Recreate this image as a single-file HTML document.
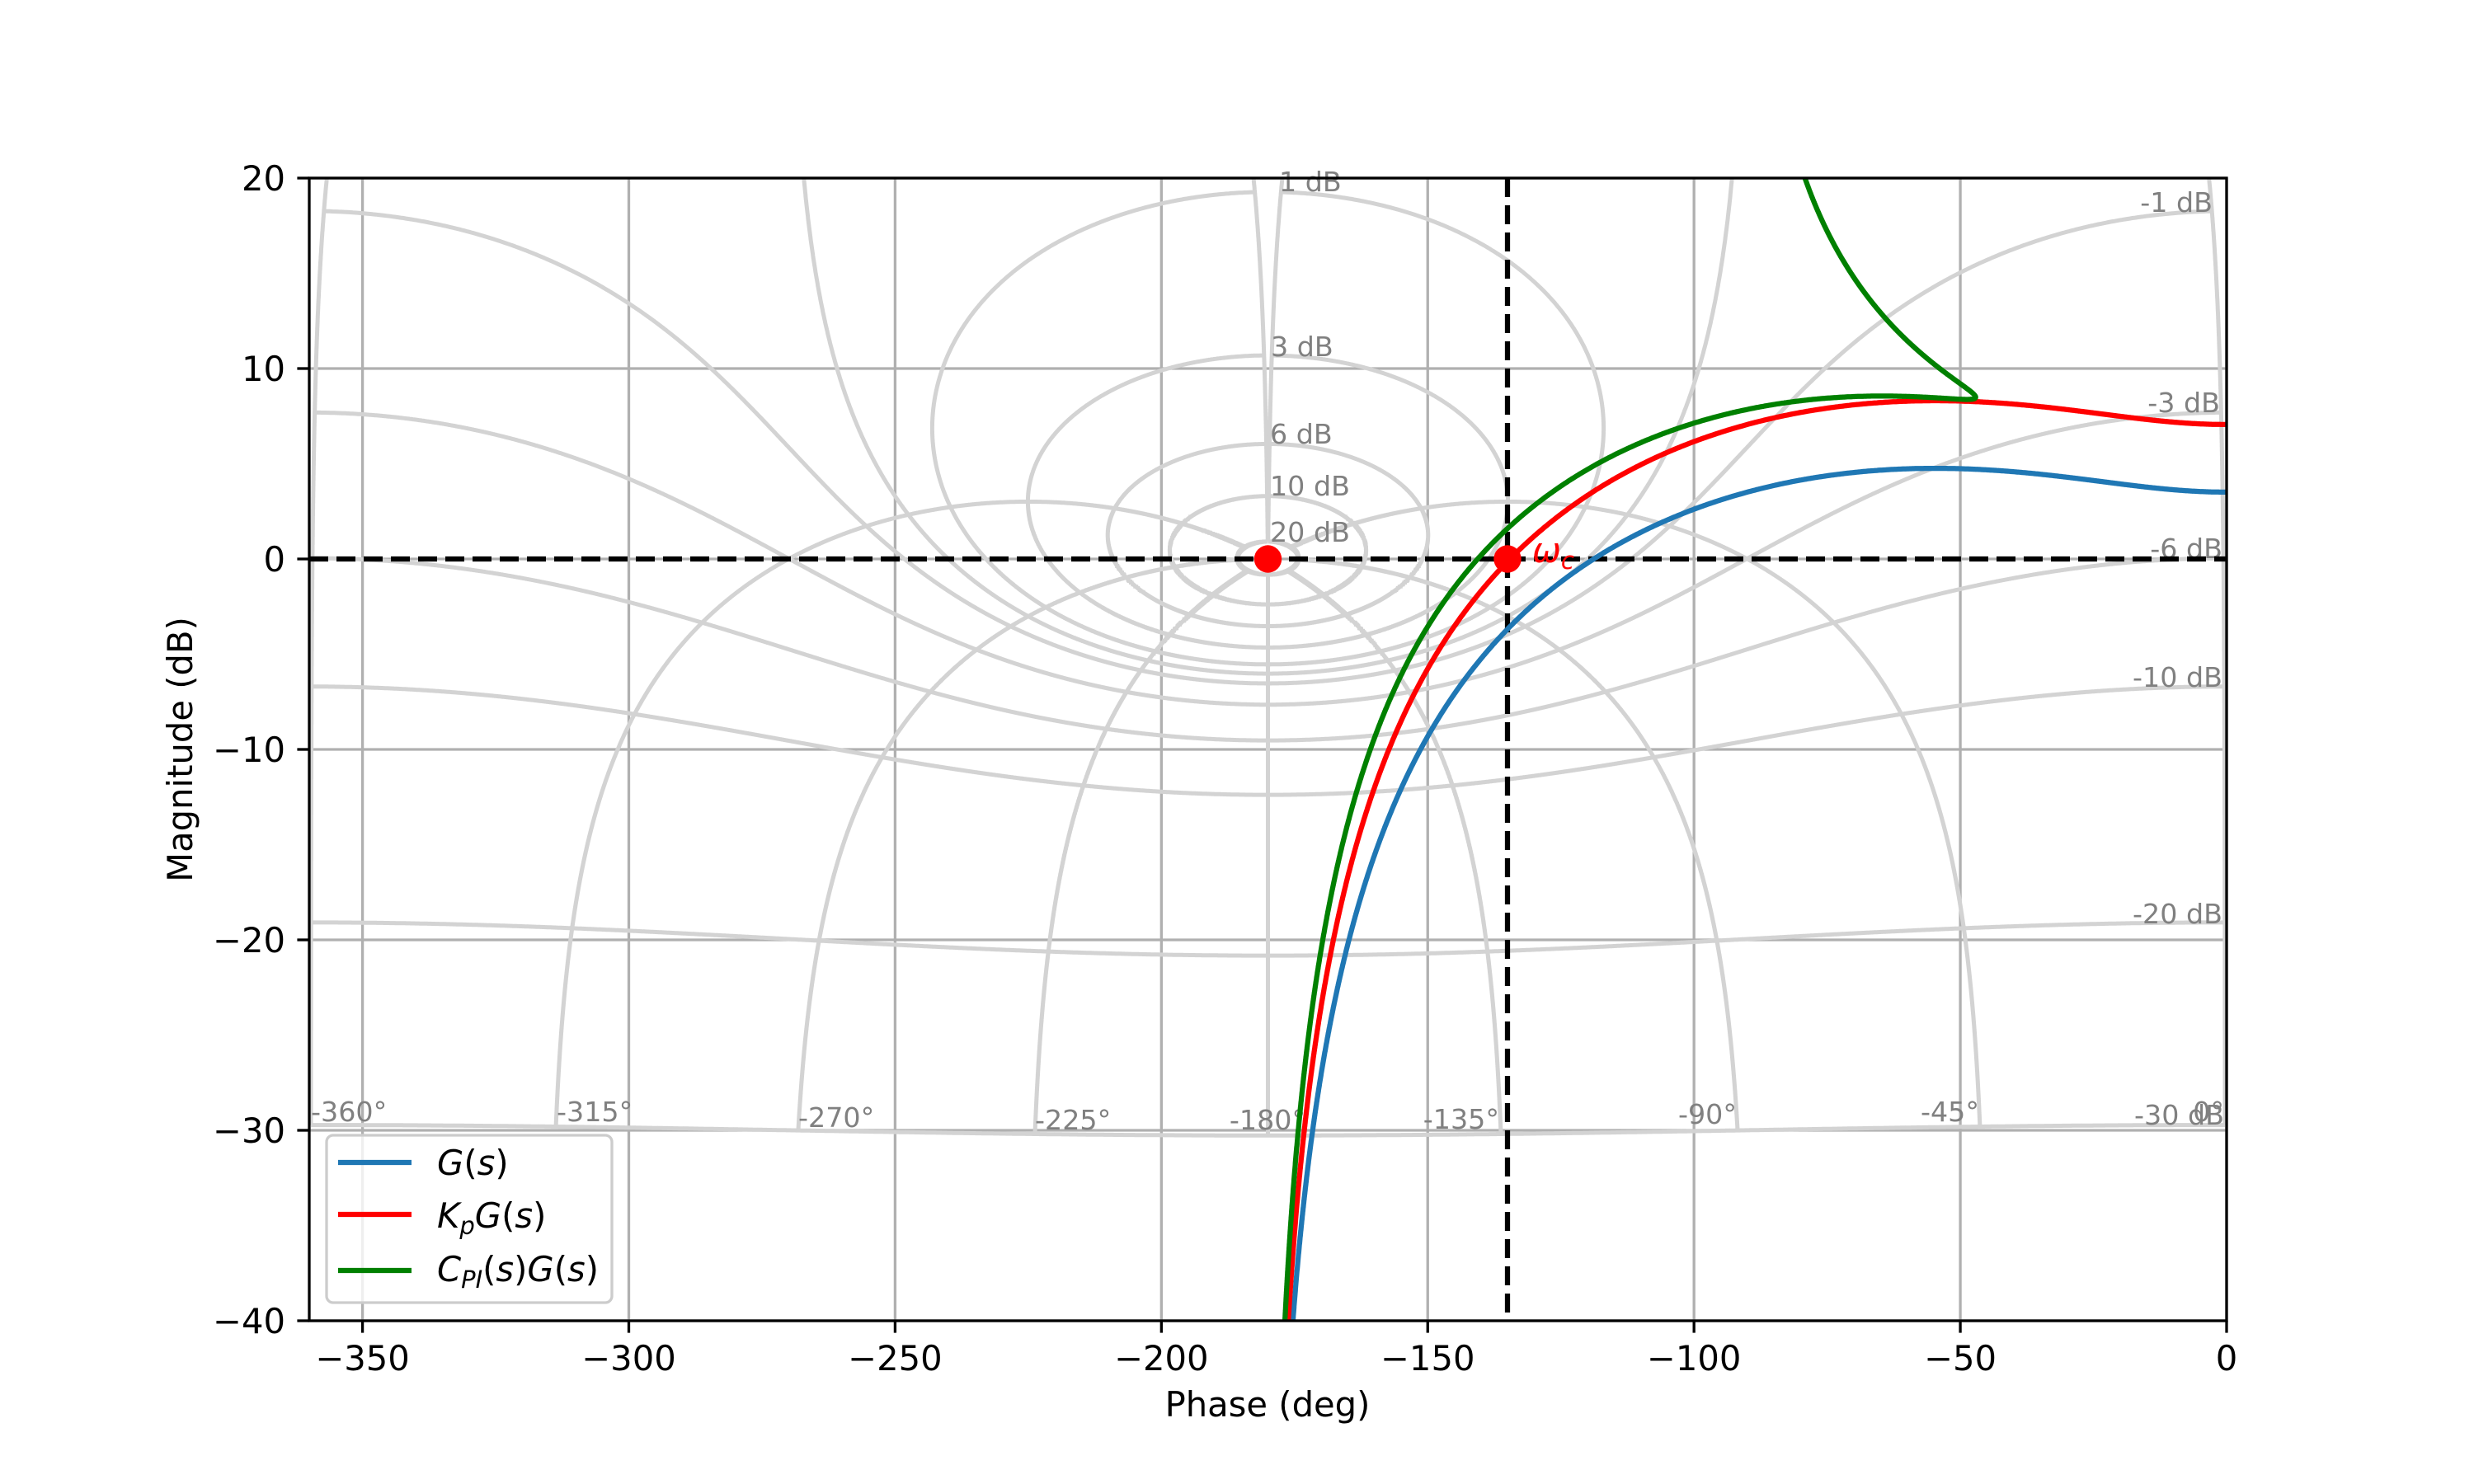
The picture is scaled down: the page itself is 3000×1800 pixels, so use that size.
<!DOCTYPE html>
<html><head><meta charset="utf-8"><style>
html,body{margin:0;padding:0;background:#fff;width:3000px;height:1800px;overflow:hidden;}
svg{display:block;}
text{font-family:"DejaVu Sans","Liberation Sans",sans-serif;}
</style></head><body>
<svg id="s" xmlns="http://www.w3.org/2000/svg" width="3000" height="1800" viewBox="0 0 3000 1800">
<defs><clipPath id="cp"><rect x="375" y="216" width="2325" height="1386"/></clipPath></defs>
<rect width="3000" height="1800" fill="#fff"/>
<g id="grid" stroke="#b0b0b0" stroke-width="3.3"></g>
<g id="nic" clip-path="url(#cp)" fill="none" stroke="#d3d3d3" stroke-width="5"></g>
<g fill="#808080" font-size="33.3">
<text x="377" y="1360">-360°</text>
<text x="675" y="1360">-315°</text>
<text x="968" y="1367">-270°</text>
<text x="1255" y="1370">-225°</text>
<text x="1537" y="1370" text-anchor="middle">-180°</text>
<text x="1818" y="1369" text-anchor="end">-135°</text>
<text x="2106" y="1363" text-anchor="end">-90°</text>
<text x="2400" y="1360" text-anchor="end">-45°</text>
<text x="2697" y="1360" text-anchor="end">0°</text>
<text x="2683" y="257" text-anchor="end">-1 dB</text>
<text x="2692" y="500" text-anchor="end">-3 dB</text>
<text x="2695" y="677" text-anchor="end">-6 dB</text>
<text x="2695" y="833" text-anchor="end">-10 dB</text>
<text x="2695" y="1120" text-anchor="end">-20 dB</text>
<text x="2697" y="1364" text-anchor="end">-30 dB</text>
<text x="1551" y="232">1 dB</text>
<text x="1541" y="432">3 dB</text>
<text x="1540" y="538">6 dB</text>
<text x="1540" y="601">10 dB</text>
<text x="1540" y="657">20 dB</text>
</g>
<g clip-path="url(#cp)">
<line x1="375" y1="678" x2="2700" y2="678" stroke="#000" stroke-width="6.25" stroke-dasharray="23,10"/>
<line x1="1828" y1="216" x2="1828" y2="1602" stroke="#000" stroke-width="6.25" stroke-dasharray="23,10"/>
<g id="ser" fill="none" stroke-width="6.25" stroke-linejoin="round"></g>
<circle cx="1537.5" cy="678" r="16.7" fill="#ff0000"/>
<circle cx="1828" cy="678" r="16.7" fill="#ff0000"/>
</g>
<text x="1858" y="682" fill="#ff0000" font-size="41.7" font-style="italic">ω<tspan font-size="29" dy="8">c</tspan></text>
<rect x="375" y="216" width="2325" height="1386" fill="none" stroke="#000" stroke-width="3.3"/>
<g id="ticks" stroke="#000" stroke-width="3.3"></g>
<g font-size="41.7" fill="#000" id="tl"></g>
<text x="1537" y="1718" font-size="41.7" text-anchor="middle">Phase (deg)</text>
<text transform="translate(233,909) rotate(-90)" font-size="41.7" text-anchor="middle">Magnitude (dB)</text>
<rect x="396" y="1377" width="346" height="203" rx="8" fill="#fff" fill-opacity="0.8" stroke="#cccccc" stroke-width="3.3"/>
<line x1="410" y1="1410" x2="499" y2="1410" stroke="#1f77b4" stroke-width="6.25"/>
<line x1="410" y1="1473" x2="499" y2="1473" stroke="#ff0000" stroke-width="6.25"/>
<line x1="410" y1="1541" x2="499" y2="1541" stroke="#008000" stroke-width="6.25"/>
<g font-size="41.7">
<text x="530" y="1425"><tspan font-style="italic">G</tspan>(<tspan font-style="italic">s</tspan>)</text>
<text x="530" y="1489"><tspan font-style="italic">K</tspan><tspan font-style="italic" font-size="29" dy="8">p</tspan><tspan font-style="italic" dy="-8">G</tspan>(<tspan font-style="italic">s</tspan>)</text>
<text x="530" y="1554"><tspan font-style="italic">C</tspan><tspan font-style="italic" font-size="29" dy="8">PI</tspan><tspan dy="-8">(</tspan><tspan font-style="italic">s</tspan>)<tspan font-style="italic">G</tspan>(<tspan font-style="italic">s</tspan>)</text>
</g>
</svg>
<script>
(function(){
var NS="http://www.w3.org/2000/svg";
function px(x){return 375+(x+360)*2325/360;}
function py(y){return 216+(20-y)*1386/60;}
function el(p,n,a,t){var e=document.createElementNS(NS,n);for(var k in a)e.setAttribute(k,a[k]);if(t!=null)e.textContent=t;document.getElementById(p).appendChild(e);return e;}
for(var x=-350;x<=0;x+=50){var X=px(x);el('grid','line',{x1:X,y1:216,x2:X,y2:1602});el('ticks','line',{x1:X,y1:1602,x2:X,y2:1616.6});
 el('tl','text',{x:X,y:1662,'text-anchor':'middle'},x<0?'\u2212'+(-x):'0');}
for(var y=-40;y<=20;y+=10){var Y=py(y);el('grid','line',{x1:375,y1:Y,x2:2700,y2:Y});el('ticks','line',{x1:360.4,y1:Y,x2:375,y2:Y});
 el('tl','text',{x:346,y:Y+15,'text-anchor':'end'},y<0?'\u2212'+(-y):''+y);}
function G2(re,im){var a=Math.atan2(im,re)*180/Math.PI;if(a>0)a-=360;var m=20*Math.log10(Math.hypot(re,im));return [a,m];}
function pathFrom(pts){var d='',prev=null;for(var i=0;i<pts.length;i++){var p=pts[i];if(!isFinite(p[1])){prev=null;continue;}
 var m=Math.max(-200,Math.min(200,p[1]));
 if(prev&&Math.abs(p[0]-prev[0])<150)d+='L'+px(p[0]).toFixed(1)+' '+py(m).toFixed(1);else d+='M'+px(p[0]).toFixed(1)+' '+py(m).toFixed(1);prev=p;}return d;}
function olFromCl(M,psi){var c=Math.cos(psi*Math.PI/180)*M,s=Math.sin(psi*Math.PI/180)*M;var dr=1-c,di=-s;var den=dr*dr+di*di;
 var re=(c*dr+s*di)/den,im=(s*dr-c*di)/den;return G2(re,im);}
var mags=[-30,-20,-10,-6,-3,-1,0,1,3,6,10,20];
mags.forEach(function(db){var M=Math.pow(10,db/20),pts=[];for(var i=0;i<=6000;i++){var psi=-359.7+i*(359.4/6000);pts.push(olFromCl(M,psi));}
 el('nic','path',{d:pathFrom(pts)});});
var phs=[-359.7,-315,-270,-225,-180,-135,-90,-45,-0.3];
phs.forEach(function(ps){var pts=[];for(var i=0;i<=6000;i++){var db=-30+i*50/6000;pts.push(olFromCl(Math.pow(10,db/20),ps));}
 el('nic','path',{d:pathFrom(pts)});});
function series(f,col){var pts=[];for(var i=0;i<=4000;i++){var w=Math.pow(10,-3+i*5/4000);var r=f(w);pts.push(G2(r[0],r[1]));}
 el('ser','path',{d:pathFrom(pts),stroke:col});}
function Gj(w){var dr=1-w*w,di=w,den=dr*dr+di*di;return [1.498*dr/den,-1.498*di/den];}
var Kp=1.505,Ti=6;
series(Gj,'#1f77b4');
series(function(w){var g=Gj(w);return [Kp*g[0],Kp*g[1]];},'#ff0000');
series(function(w){var g=Gj(w);var cr=Kp,ci=-Kp/(Ti*w);return [cr*g[0]-ci*g[1],cr*g[1]+ci*g[0]];},'#008000');
})();
</script>
</body></html>
